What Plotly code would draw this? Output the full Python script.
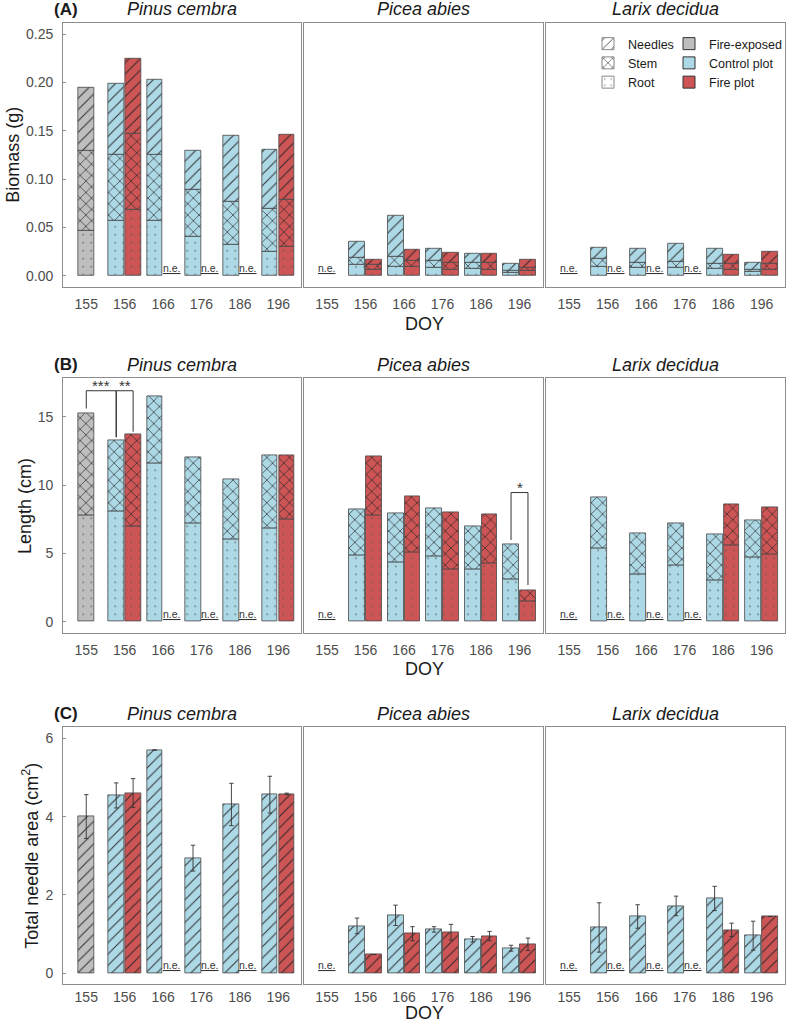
import plotly.graph_objects as go

W, H = 787, 1024
N = None

# ---------------- data ----------------
doy = ["155", "156", "166", "176", "186", "196"]
doy_exposed = ["155"]
doy_plots = ["156", "166", "176", "186", "196"]
species = ["Pinus cembra", "Picea abies", "Larix decidua"]
groups = ["Fire-exposed", "Control plot", "Fire plot"]
group_colors = ["#BEBEBE", "#ADD8E6", "#CD5555"]
components = ["Needles", "Stem", "Root"]
component_patterns = ["/", "x", "."]

# (A) Biomass (g); exposed = one value per species at DOY 155,
# control / fire = rows per species, columns per DOY 156..196
bio_exp_root = [0.047, N, N]
bio_exp_stem = [0.082, N, N]
bio_exp_needles = [0.065, N, N]
bio_ctrl_root = [[0.057, 0.057, 0.040, 0.032, 0.025],
                 [0.011, 0.009, 0.008, 0.007, 0.0035],
                 [0.0097, 0.0086, 0.0086, 0.0069, 0.0045]]
bio_ctrl_stem = [[0.068, 0.068, 0.049, 0.045, 0.044],
                 [0.008, 0.011, 0.008, 0.006, 0.002],
                 [0.0083, 0.0052, 0.006, 0.0051, 0.0017]]
bio_ctrl_needles = [[0.074, 0.078, 0.040, 0.068, 0.061],
                    [0.016, 0.042, 0.012, 0.010, 0.0065],
                    [0.0114, 0.0139, 0.0182, 0.0164, 0.0076]]
bio_fire_root = [[0.068, N, N, N, 0.030],
                 [0.006, 0.009, 0.006, 0.0066, 0.005],
                 [N, N, N, 0.006, 0.006]]
bio_fire_stem = [[0.079, N, N, N, 0.049],
                 [0.005, 0.007, 0.007, 0.007, 0.0036],
                 [N, N, N, 0.006, 0.006]]
bio_fire_needles = [[0.077, N, N, N, 0.067],
                    [0.006, 0.011, 0.0105, 0.009, 0.0077],
                    [N, N, N, 0.0094, 0.0129]]

# (B) Length (cm)
len_exp_root = [7.8, N, N]
len_exp_stem = [7.44, N, N]
len_ctrl_root = [[8.05, 11.59, 7.2, 6.02, 6.8],
                 [4.88, 4.32, 4.76, 3.83, 3.1],
                 [5.37, 3.46, 4.15, 3.0, 4.7]]
len_ctrl_stem = [[5.25, 4.87, 4.82, 4.37, 5.37],
                 [3.36, 3.58, 3.51, 3.17, 2.56],
                 [3.73, 3.0, 3.05, 3.37, 2.71]]
len_fire_root = [[6.95, N, N, N, 7.49],
                 [7.76, 5.05, 3.83, 4.27, 1.46],
                 [N, N, N, 5.56, 4.93]]
len_fire_stem = [[6.78, N, N, N, 4.68],
                 [4.34, 4.1, 4.17, 3.58, 0.86],
                 [N, N, N, 3.0, 3.44]]

# (C) Total needle area (cm2), mean and error
area_exp = [4.0, N, N]
area_exp_err = [0.56, N, N]
area_ctrl = [[4.54, 5.70, 2.94, 4.31, 4.56],
             [1.21, 1.48, 1.12, 0.87, 0.64],
             [1.17, 1.45, 1.72, 1.91, 0.96]]
area_ctrl_err = [[0.32, N, 0.33, 0.54, 0.47],
                 [0.20, 0.26, 0.07, 0.07, 0.075],
                 [0.63, 0.30, 0.25, 0.31, 0.37]]
area_fire = [[4.60, N, N, N, 4.58],
             [0.48, 1.01, 1.05, 0.95, 0.74],
             [N, N, N, 1.11, 1.45]]
area_fire_err = [[0.37, N, N, N, 0.02],
                 [N, 0.18, 0.20, 0.12, 0.16],
                 [N, N, N, 0.17, N]]

# significance brackets in panel (B)
sig_species = [0, 0, 1]
sig_doy = [("155", "156"), ("156", "156"), ("196", "196")]
sig_groups = [(0, 1), (1, 2), (1, 2)]
sig_top = [16.9, 16.9, 9.45]
sig_left_end = [15.6, 13.5, 5.98]
sig_right_end = [13.5, 13.9, 2.68]
sig_labels = ["***", "**", "*"]

row_labels = ["(A)", "(B)", "(C)"]
row_titles = ["Biomass (g)", "Length (cm)", "Total needle area (cm<sup>2</sup>)"]
row_ranges = [[-0.0114, 0.2617], [-0.805, 17.81], [-0.281, 6.28]]
row_ticks = [[0, 0.05, 0.10, 0.15, 0.20, 0.25], [0, 5, 10, 15], [0, 2, 4, 6]]
row_tickformat = [".2f", "d", "d"]

# ---------------- layout geometry (pixels) ----------------
col_px = [(63.3, 301.7), (304.3, 543.3), (546.7, 785.7)]
row_px = [(22.7, 286.7), (378.3, 632.7), (727.3, 984.3)]
ytitle_x = [13, 24.5, 31]
xlabel_standoff = [4, 4, 0]
doy_offset = [37, 36, 28.5]
bar_w = 0.41
group_offset = [-0.205, -0.425, 0.015]   # bar left edge relative to category
group_center = [0.0, -0.22, 0.22]

FONT = "Liberation Sans, Arial, sans-serif"
TICK_COL = "#4d4d4d"
FRAME_COL = "#8c8c8c"
EDGE_COL = "#474747"


def px_x(v):
    return v / W


def px_y(v):
    return 1 - v / H


def suffix(r, c):
    k = r * 3 + c + 1
    return "" if k == 1 else str(k)


fig = go.Figure()
annotations = []
shapes = []


def pattern(shape):
    if shape == ".":
        return dict(shape=".", fgcolor="#555555", fgopacity=0.6, size=8, solidity=0.05, fillmode="overlay")
    if shape == "x":
        return dict(shape="x", fgcolor="#222222", fgopacity=0.95, size=8, solidity=0.16, fillmode="overlay")
    return dict(shape=shape, fgcolor="#222222", fgopacity=0.9, size=8, solidity=0.13, fillmode="overlay")


def add_stack(r, c, cats, comp_vals, comp_shapes, g, err=None):
    s = suffix(r, c)
    base = [0.0] * len(cats)
    n = len(comp_vals)
    for i, (vals, shp) in enumerate(zip(comp_vals, comp_shapes)):
        top = (i == n - 1)
        kw = {}
        if top and err is not None:
            kw["error_y"] = dict(type="data", array=[e if e is not None else 0 for e in err],
                                 visible=True, color="#333333", thickness=0.9, width=2.2)
        fig.add_trace(go.Bar(
            x=cats, y=vals, base=list(base), offset=group_offset[g], width=bar_w,
            marker=dict(color=group_colors[g], line=dict(color=EDGE_COL, width=0.8),
                        pattern=pattern(shp)),
            xaxis="x" + s, yaxis="y" + s, showlegend=False, hoverinfo="skip", **kw))
        base = [b + (v if v is not None else 0) for b, v in zip(base, vals)]


def add_ne(r, c, pos):
    s = suffix(r, c)
    annotations.append(dict(
        x=pos, y=0, xref="x" + s, yref="y" + s, text="n.e.", showarrow=False,
        xanchor="center", yanchor="bottom", yshift=0,
        font=dict(family=FONT, size=10.5, color="#333333", lineposition="under")))


for c in range(3):
    # --- (A) biomass ---
    exp_vals = [[bio_exp_root[c]], [bio_exp_stem[c]], [bio_exp_needles[c]]]
    if bio_exp_root[c] is not None:
        add_stack(0, c, doy_exposed, exp_vals, [".", "x", "/"], 0)
    add_stack(0, c, doy_plots, [bio_ctrl_root[c], bio_ctrl_stem[c], bio_ctrl_needles[c]], [".", "x", "/"], 1)
    add_stack(0, c, doy_plots, [bio_fire_root[c], bio_fire_stem[c], bio_fire_needles[c]], [".", "x", "/"], 2)
    # --- (B) length ---
    if len_exp_root[c] is not None:
        add_stack(1, c, doy_exposed, [[len_exp_root[c]], [len_exp_stem[c]]], [".", "x"], 0)
    add_stack(1, c, doy_plots, [len_ctrl_root[c], len_ctrl_stem[c]], [".", "x"], 1)
    add_stack(1, c, doy_plots, [len_fire_root[c], len_fire_stem[c]], [".", "x"], 2)
    # --- (C) needle area ---
    if area_exp[c] is not None:
        add_stack(2, c, doy_exposed, [[area_exp[c]]], ["/"], 0, err=[area_exp_err[c]])
    add_stack(2, c, doy_plots, [area_ctrl[c]], ["/"], 1, err=area_ctrl_err[c])
    add_stack(2, c, doy_plots, [area_fire[c]], ["/"], 2, err=area_fire_err[c])

    # n.e. labels (not examined)
    for r in range(3):
        if [bio_exp_root, len_exp_root, area_exp][r][c] is None:
            add_ne(r, c, doy.index("155") + group_center[0])
        fire_vals = [bio_fire_root, len_fire_root, area_fire][r][c]
        for j, v in enumerate(fire_vals):
            if v is None:
                add_ne(r, c, doy.index(doy_plots[j]) + group_center[2])

# significance brackets
for k in range(len(sig_labels)):
    s = suffix(1, sig_species[k])
    x0 = doy.index(sig_doy[k][0]) + group_center[sig_groups[k][0]]
    x1 = doy.index(sig_doy[k][1]) + group_center[sig_groups[k][1]]
    shapes.append(dict(type="path", xref="x" + s, yref="y" + s,
                       path=f"M {x0} {sig_left_end[k]} L {x0} {sig_top[k]} L {x1} {sig_top[k]} L {x1} {sig_right_end[k]}",
                       line=dict(color="#333333", width=1)))
    annotations.append(dict(x=(x0 + x1) / 2, y=sig_top[k], xref="x" + s, yref="y" + s,
                            text=sig_labels[k], showarrow=False, yanchor="bottom", yshift=-5,
                            font=dict(family=FONT, size=15, color="#333333")))

# axes
layout = {}
for r in range(3):
    for c in range(3):
        s = suffix(r, c)
        layout["xaxis" + s] = dict(
            type="category", categoryorder="array", categoryarray=doy, range=[-0.6, 5.6],
            domain=[px_x(col_px[c][0]), px_x(col_px[c][1])], anchor="y" + s,
            showline=True, mirror=True, linecolor=FRAME_COL, linewidth=1.2,
            ticks="", showgrid=False, zeroline=False, automargin=False,
            tickfont=dict(family=FONT, size=14, color=TICK_COL),
            ticklabelstandoff=xlabel_standoff[r], fixedrange=True)
        layout["yaxis" + s] = dict(
            range=row_ranges[r], domain=[px_y(row_px[r][1]), px_y(row_px[r][0])], anchor="x" + s,
            showline=True, mirror=True, linecolor=FRAME_COL, linewidth=1.2,
            showgrid=False, zeroline=False, automargin=False,
            tickvals=row_ticks[r], tickformat=row_tickformat[r],
            ticks="inside" if c == 0 else "", ticklen=3, tickcolor=FRAME_COL,
            showticklabels=(c == 0), ticklabelstandoff=6,
            tickfont=dict(family=FONT, size=14, color=TICK_COL), fixedrange=True)

        annotations.append(dict(
            x=px_x((col_px[c][0] + col_px[c][1]) / 2), y=px_y(row_px[r][0] - 13.5),
            xref="paper", yref="paper", text="<i>" + species[c] + "</i>", showarrow=False,
            xanchor="center", yanchor="middle", font=dict(family=FONT, size=18, color="#1a1a1a")))

    annotations.append(dict(x=px_x(52), y=px_y(row_px[r][0] - 13.5), xref="paper", yref="paper",
                            text="<b>" + row_labels[r] + "</b>", showarrow=False, xanchor="left",
                            yanchor="middle", font=dict(family=FONT, size=17, color="#1a1a1a")))
    annotations.append(dict(x=px_x(ytitle_x[r]), y=px_y((row_px[r][0] + row_px[r][1]) / 2),
                            xref="paper", yref="paper", text=row_titles[r], textangle=-90,
                            showarrow=False, xanchor="center", yanchor="middle",
                            font=dict(family=FONT, size=18, color="#1a1a1a")))
    annotations.append(dict(x=px_x(425), y=px_y(row_px[r][1] + doy_offset[r]), xref="paper", yref="paper",
                            text="DOY", showarrow=False, xanchor="center", yanchor="middle",
                            borderpad=0, font=dict(family=FONT, size=18, color="#1a1a1a")))

# legend entries (dummy traces carrying only the legend keys)
for name, shp in zip(components, component_patterns):
    fig.add_trace(go.Bar(x=[None], y=[None], name=name, legend="legend",
                         marker=dict(color="white", line=dict(color="#888888", width=1),
                                     pattern=pattern(shp)),
                         xaxis="x3", yaxis="y3"))
for name, col in zip(groups, group_colors):
    fig.add_trace(go.Bar(x=[None], y=[None], name=name, legend="legend2",
                         marker=dict(color=col, line=dict(color="#333333", width=1)),
                         xaxis="x3", yaxis="y3"))

legend_font = dict(family=FONT, size=12.5, color="#1a1a1a")
fig.update_layout(
    width=W, height=H, margin=dict(l=0, r=0, t=0, b=0),
    paper_bgcolor="white", plot_bgcolor="white",
    barmode="overlay", bargap=0,
    showlegend=True,
    legend=dict(x=px_x(588), y=px_y(29), xanchor="left", yanchor="top", font=legend_font,
                bgcolor="rgba(0,0,0,0)", tracegroupgap=0, itemclick=False),
    legend2=dict(x=px_x(670), y=px_y(29), xanchor="left", yanchor="top", font=legend_font,
                 bgcolor="rgba(0,0,0,0)", tracegroupgap=0, itemclick=False),
    annotations=annotations, shapes=shapes,
    font=dict(family=FONT),
    **layout)

fig.write_html("out.html")
